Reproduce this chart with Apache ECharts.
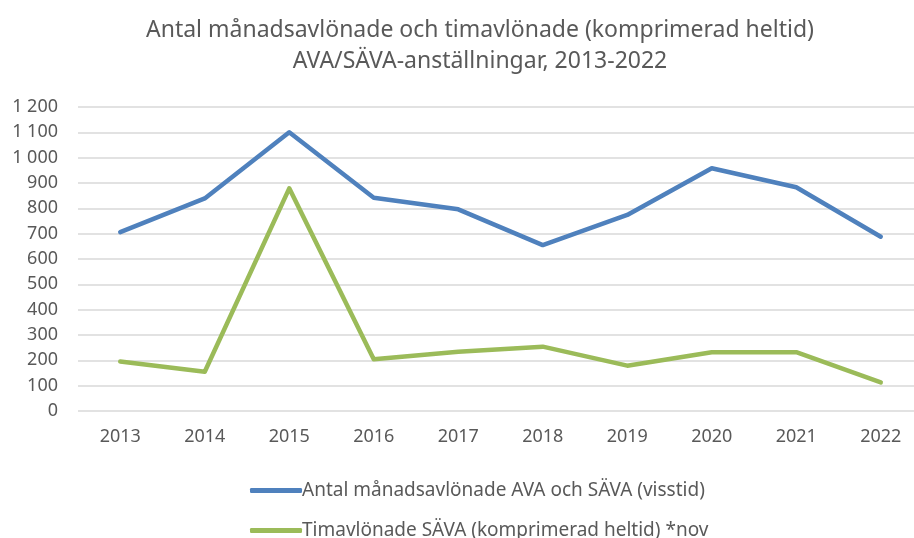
<!DOCTYPE html>
<html>
<head>
<meta charset="utf-8">
<script src="https://cdn.jsdelivr.net/npm/echarts@6/dist/echarts.min.js"></script>
<style>
  html, body { margin: 0; padding: 0; background: #fff; }
  #chart { width: 914px; height: 538px; }
</style>
</head>
<body>
<div id="chart"></div>
<script>
  var years = ['2013', '2014', '2015', '2016', '2017', '2018', '2019', '2020', '2021', '2022'];
  var manadsavlonade = [706, 839, 1100, 842, 796, 655, 774, 958, 883, 688];
  var timavlonade = [195, 155, 879, 204, 234, 254, 179, 232, 232, 113];
  var seriesNames = ['Antal månadsavlönade AVA och SÄVA (visstid)', 'Timavlönade SÄVA (komprimerad heltid) *nov'];

  var chart = echarts.init(document.getElementById('chart'));
  var font = '"Noto Sans", sans-serif';

  // one legend per row, the second row is cut by the bottom edge like the original
  function legendRow(name, top) {
    return {
      left: 245,
      top: top,
      itemWidth: 52,
      itemHeight: 5,
      icon: 'roundRect',
      textStyle: { color: '#595959', fontSize: 19, fontFamily: font, padding: [0, 0, 0, -5] },
      data: [name]
    };
  }

  chart.setOption({
    animation: false,
    textStyle: { fontFamily: font },
    title: {
      text: 'Antal månadsavlönade och timavlönade (komprimerad heltid)\nAVA/SÄVA-anställningar, 2013-2022',
      left: 475,
      textAlign: 'center',
      top: 10,
      textStyle: { color: '#595959', fontSize: 23, fontWeight: 'normal', lineHeight: 31, fontFamily: font }
    },
    legend: [legendRow(seriesNames[0], 476), legendRow(seriesNames[1], 516)],
    grid: { left: 78, right: -9, top: 107, bottom: 127, containLabel: false, outerBoundsMode: 'none' },
    xAxis: {
      type: 'category',
      data: years,
      boundaryGap: true,
      axisLine: { show: false },
      axisTick: { show: false },
      axisLabel: { color: '#595959', fontSize: 18, margin: 17 }
    },
    yAxis: {
      type: 'value',
      min: 0,
      max: 1200,
      interval: 100,
      axisLabel: {
        color: '#595959',
        fontSize: 18,
        margin: 20,
        formatter: function (v) { return String(v).replace(/\B(?=(\d{3})+(?!\d))/g, ' '); }
      },
      splitLine: { lineStyle: { color: '#d9d9d9', width: 1.5 } }
    },
    series: [
      {
        name: seriesNames[0],
        type: 'line',
        data: manadsavlonade,
        symbol: 'none',
        color: '#4f81bd',
        lineStyle: { width: 4.5, cap: 'round', join: 'round' }
      },
      {
        name: seriesNames[1],
        type: 'line',
        data: timavlonade,
        symbol: 'none',
        color: '#9bbb59',
        lineStyle: { width: 4.5, cap: 'round', join: 'round' }
      }
    ]
  });
</script>
</body>
</html>
